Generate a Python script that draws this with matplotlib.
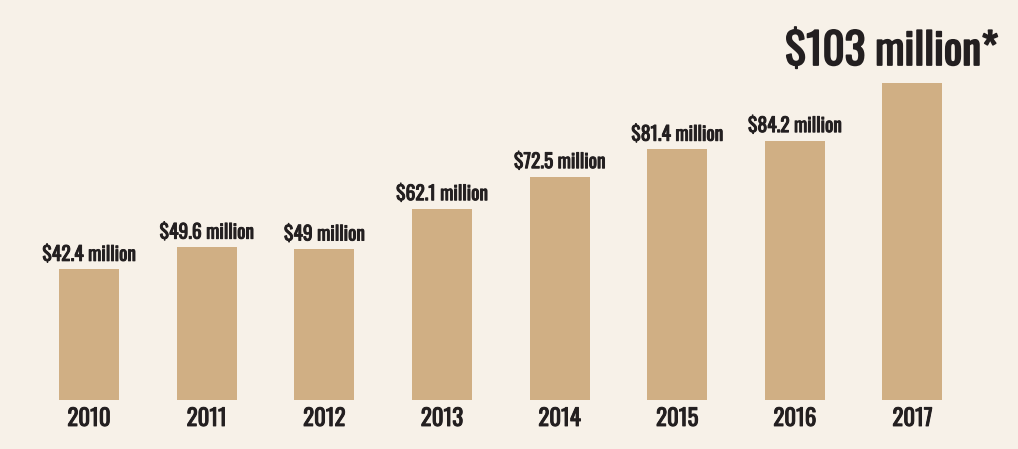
import matplotlib.pyplot as plt
import matplotlib.patheffects as pe

years = ["2010", "2011", "2012", "2013", "2014", "2015", "2016", "2017"]
values = [42.4, 49.6, 49.0, 62.1, 72.5, 81.4, 84.2, 103.0]
labels = ["$42.4 million", "$49.6 million", "$49 million", "$62.1 million",
          "$72.5 million", "$81.4 million", "$84.2 million", "$103 million*"]

bg = "#f7f1e8"
bar_color = "#d0af84"
ink = "#231f20"
font = ["Oswald", "DejaVu Sans"]

fig = plt.figure(figsize=(10.18, 4.49), dpi=100, facecolor=bg)
ax = fig.add_axes([0, 49 / 449, 1, 400 / 449])
ax.set_facecolor(bg)

x = list(range(len(years)))
ax.bar(x, values, width=0.51, color=bar_color)

# thin stroke to get closer to the medium/bold weight of the original
thick = [pe.withStroke(linewidth=0.7, foreground=ink)]
thick_big = [pe.withStroke(linewidth=1.2, foreground=ink)]

for i, (v, lab) in enumerate(zip(values, labels)):
    if i == len(values) - 1:
        ax.annotate(lab, (i, v), xytext=(-15, 7), textcoords="offset points",
                    ha="center", va="bottom", fontsize=31,
                    color=ink, family=font, path_effects=thick_big)
    else:
        ax.annotate(lab, (i, v), xytext=(0, 4), textcoords="offset points",
                    ha="center", va="bottom", fontsize=14,
                    color=ink, family=font, path_effects=thick)
    ax.annotate(years[i], (i, 0), xytext=(0, -5), textcoords="offset points",
                ha="center", va="top", fontsize=16.5,
                color=ink, family=font, path_effects=thick)

ax.set_xlim(-0.757, 7.897)
ax.set_ylim(0, 400 / 3.08)
ax.axis("off")

fig.savefig("out.png", dpi=100, facecolor=bg)
